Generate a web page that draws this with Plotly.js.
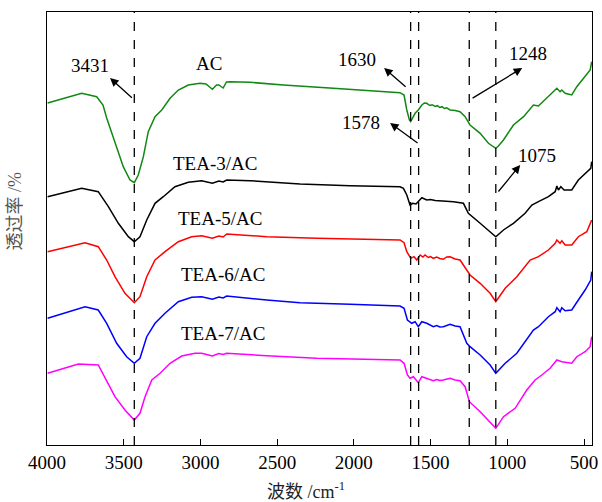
<!DOCTYPE html>
<html>
<head>
<meta charset="utf-8">
<script src="https://cdn.plot.ly/plotly-3.0.1.min.js"></script>
<style>
  html, body { margin: 0; padding: 0; background: #fff; }
  #chart { width: 602px; height: 502px; }
</style>
</head>
<body>
<div id="chart"></div>
<script>
// FTIR transmittance spectra (stacked, arbitrary units) of AC and TEA-modified AC
const acWn = [3996, 3774, 3676, 3635, 3611, 3578, 3546, 3503, 3459, 3431, 3405, 3372, 3340, 3296, 3252, 3198, 3144, 3079, 3003, 2964, 2922, 2895, 2880, 2852, 2830, 2807, 2677, 2460, 2134, 1873, 1699, 1673, 1655, 1638, 1630, 1601, 1580, 1557, 1540, 1525, 1505, 1490, 1470, 1455, 1440, 1425, 1410, 1395, 1373, 1340, 1308, 1275, 1243, 1177, 1123, 1075, 1058, 1025, 960, 894, 830, 797, 742, 688, 677, 656, 645, 623, 580, 547, 504, 460, 450];
const acT = [342, 351.7, 348.3, 340, 327, 312, 297, 278.3, 265, 262.3, 270, 288.3, 313.3, 328.3, 335, 346.7, 355, 360, 361.7, 361, 355.7, 360, 360, 357, 363, 363.3, 362.7, 360, 356.7, 354.3, 352.3, 350, 335, 325, 323.3, 331.7, 335, 340, 342, 341.7, 339.5, 340.3, 338.5, 339.3, 337.5, 338.3, 336.5, 337.2, 335, 334.5, 333.3, 328.3, 320, 311.7, 301.7, 296.7, 299, 305, 320, 328.3, 340, 339, 346.7, 355, 356.7, 353.3, 355, 351.7, 350, 358.3, 366.7, 375, 383.3];

const tea3Wn = [3996, 3774, 3666, 3600, 3535, 3470, 3431, 3394, 3350, 3296, 3242, 3166, 3079, 2992, 2922, 2880, 2852, 2829, 2677, 2351, 2025, 1699, 1677, 1655, 1634, 1616, 1595, 1580, 1557, 1525, 1500, 1470, 1438, 1400, 1351, 1286, 1254, 1177, 1112, 1075, 1025, 960, 884, 840, 797, 732, 688, 677, 667, 651, 630, 580, 537, 482, 456, 450];
const tea3T = [248.3, 256.7, 253.3, 238.3, 221.7, 208.3, 203.3, 208.3, 225, 241.7, 248.3, 258.3, 262.7, 264.3, 261.7, 264, 263, 265, 264.3, 261, 259.3, 258.3, 256.7, 250, 240, 241.7, 241, 243.3, 247.3, 245, 245.5, 244.5, 244.3, 244, 243.3, 241.7, 231.7, 221.7, 213.3, 208.3, 215, 221.7, 231.7, 240, 243.3, 248.3, 253.3, 259, 255, 258.3, 255, 255, 265, 273.3, 276.7, 283.3];

const tea5Wn = [3996, 3752, 3666, 3611, 3557, 3492, 3431, 3394, 3350, 3296, 3231, 3144, 3057, 2992, 2922, 2880, 2852, 2829, 2568, 2242, 1699, 1673, 1655, 1629, 1608, 1590, 1568, 1550, 1536, 1515, 1500, 1482, 1460, 1440, 1417, 1395, 1373, 1340, 1308, 1264, 1243, 1177, 1112, 1075, 1014, 938, 873, 851, 797, 732, 688, 677, 656, 645, 623, 580, 537, 482, 450];
const tea5T = [193.3, 202.3, 198.3, 185, 168.3, 151.7, 142.3, 148.3, 168.3, 185, 193.3, 203.3, 208.3, 209.3, 206.7, 209, 208, 211, 208.3, 206.7, 205, 202.3, 193.3, 186.7, 188.3, 185, 190, 188, 190, 187.5, 188.5, 186.7, 188, 186.5, 185.7, 188, 188.3, 186, 185, 175, 170, 161.7, 151.7, 143.3, 156.7, 168.3, 181.7, 185, 188.3, 195, 201.7, 205, 201.7, 204.3, 200, 200, 208.3, 213.3, 225];

const tea6Wn = [3996, 3752, 3666, 3611, 3546, 3481, 3431, 3394, 3350, 3296, 3231, 3144, 3057, 2992, 2922, 2880, 2852, 2829, 2568, 2351, 2025, 1699, 1673, 1651, 1623, 1601, 1580, 1557, 1525, 1505, 1482, 1460, 1440, 1417, 1395, 1373, 1340, 1308, 1264, 1243, 1177, 1112, 1075, 1014, 938, 873, 830, 797, 732, 688, 677, 656, 645, 623, 580, 537, 493, 456, 450];
const tea6T = [126.7, 138.3, 135, 121.7, 101.7, 88.3, 81.7, 86.7, 108.3, 121.7, 131.7, 143.3, 147.7, 148.3, 145.7, 148, 147, 149, 145, 142.3, 140.7, 139, 136.7, 125, 121.7, 123.3, 118.3, 123.3, 121.7, 120, 118.3, 119.5, 118, 118.3, 119.5, 120.7, 119, 118.3, 101.7, 98.3, 90, 80, 71.7, 81.7, 91.7, 105, 115, 118.3, 128.3, 133.3, 137.3, 133.3, 137.3, 134.3, 135, 145, 155, 165, 173.3];

const tea7Wn = [3996, 3796, 3666, 3611, 3557, 3492, 3431, 3394, 3361, 3317, 3263, 3198, 3122, 3035, 2992, 2922, 2880, 2852, 2829, 2568, 2242, 1699, 1673, 1651, 1634, 1612, 1580, 1557, 1525, 1505, 1482, 1460, 1440, 1417, 1395, 1373, 1340, 1308, 1275, 1247, 1177, 1112, 1075, 1025, 949, 873, 819, 775, 721, 677, 645, 580, 547, 493, 460, 450];
const tea7T = [71.7, 81, 80, 63.3, 48.3, 35, 25, 31.7, 48.3, 65, 71.7, 81.7, 89, 91.7, 91.7, 89, 91.5, 90.5, 91.7, 89.3, 86.7, 85, 81.7, 70, 66.7, 68.3, 62.3, 68.3, 66.7, 65.5, 64.3, 65.5, 64.5, 65, 66, 66.7, 65, 64.3, 58.3, 43.3, 33.3, 23.3, 16.7, 28.3, 36.7, 55, 65, 70, 76.7, 85, 83.3, 81.7, 88.3, 93.3, 98.3, 108.3];

const seriesNames = ["AC", "TEA-3/AC", "TEA-5/AC", "TEA-6/AC", "TEA-7/AC"];
const seriesColors = ["#118811", "#000000", "#ff0000", "#0000ff", "#ff00ff"];
const seriesWn = [acWn, tea3Wn, tea5Wn, tea6Wn, tea7Wn];
const seriesT = [acT, tea3T, tea5T, tea6T, tea7T];

// Marked absorption bands (cm-1) shown as dashed guides
const bandPositions = [3431, 1630, 1578, 1248, 1075];

// Curve label placement [wavenumber, level]
const labelPos = [[2944, 382], [2905, 282], [2872, 227], [2853, 171], [2853, 112]];

// Band callouts: text, text position, arrow tail, arrow head
const callouts = [
  {text: "3431", tx: 3720, ty: 380, x0: 3437, y0: 346, x1: 3589, y1: 367},
  {text: "1630", tx: 1979, ty: 386, x0: 1653, y0: 357, x1: 1803, y1: 377},
  {text: "1578", tx: 1953, ty: 323, x0: 1575, y0: 301, x1: 1764, y1: 322},
  {text: "1248", tx: 864,  ty: 392, x0: 1236, y0: 346, x1: 903,  y1: 377},
  {text: "1075", tx: 806,  ty: 290, x0: 1066, y0: 252, x1: 916,  y1: 280}
];

const serif = "Liberation Serif, Times New Roman, serif";
const cjk = "Liberation Serif, Noto Sans CJK SC, serif";

const traces = seriesNames.map((name, i) => ({
  type: "scatter",
  mode: "lines",
  name: name,
  x: seriesWn[i],
  y: seriesT[i],
  line: {color: seriesColors[i], width: 1.5},
  hoverinfo: "x+name"
}));

const shapes = bandPositions.map(b => ({
  type: "line", xref: "x", yref: "paper",
  x0: b, x1: b, y0: 0, y1: 1,
  line: {color: "#000", width: 1.3, dash: "dash"}
}));

const annotations = [];
seriesNames.forEach((name, i) => {
  annotations.push({
    x: labelPos[i][0], y: labelPos[i][1], xref: "x", yref: "y",
    text: name, showarrow: false,
    font: {family: serif, size: 19, color: "#000"}
  });
});
callouts.forEach(c => {
  annotations.push({
    x: c.tx, y: c.ty, xref: "x", yref: "y",
    text: c.text, showarrow: false,
    font: {family: serif, size: 19, color: "#000"}
  });
  annotations.push({
    x: c.x1, y: c.y1, xref: "x", yref: "y",
    ax: c.x0, ay: c.y0, axref: "x", ayref: "y",
    text: "", showarrow: true,
    arrowhead: 2, arrowsize: 1.3, arrowwidth: 1.3, arrowcolor: "#000"
  });
});
// Axis titles
annotations.push({
  x: 0.475, y: -0.105, xref: "paper", yref: "paper",
  xanchor: "center", yanchor: "middle",
  text: "波数 /cm<sup>-1</sup>", showarrow: false,
  font: {family: cjk, size: 18, color: "#222"}
});
annotations.push({
  x: -0.058, y: 0.54, xref: "paper", yref: "paper",
  xanchor: "center", yanchor: "middle", textangle: -90,
  text: "透过率 /%", showarrow: false,
  font: {family: cjk, size: 18, color: "#555"}
});

const layout = {
  width: 602, height: 502,
  margin: {l: 47, r: 10, t: 12, b: 57},
  paper_bgcolor: "#fff", plot_bgcolor: "#fff",
  showlegend: false,
  xaxis: {
    range: [4000, 448],
    tickvals: [4000, 3500, 3000, 2500, 2000, 1500, 1000, 500],
    ticktext: ["4000", "3500", "3000", "2500", "2000", "1500", "1000", "500"],
    ticks: "inside", ticklen: 6, tickwidth: 1, tickcolor: "#000",
    showline: true, linecolor: "#000", linewidth: 1.2, mirror: true,
    showgrid: false, zeroline: false,
    tickfont: {family: serif, size: 19, color: "#000"}
  },
  yaxis: {
    range: [0, 433],
    showticklabels: false, ticks: "",
    showline: true, linecolor: "#000", linewidth: 1.2, mirror: true,
    showgrid: false, zeroline: false
  },
  shapes: shapes,
  annotations: annotations
};

Plotly.newPlot("chart", traces, layout, {displayModeBar: false, staticPlot: true});
</script>
</body>
</html>
